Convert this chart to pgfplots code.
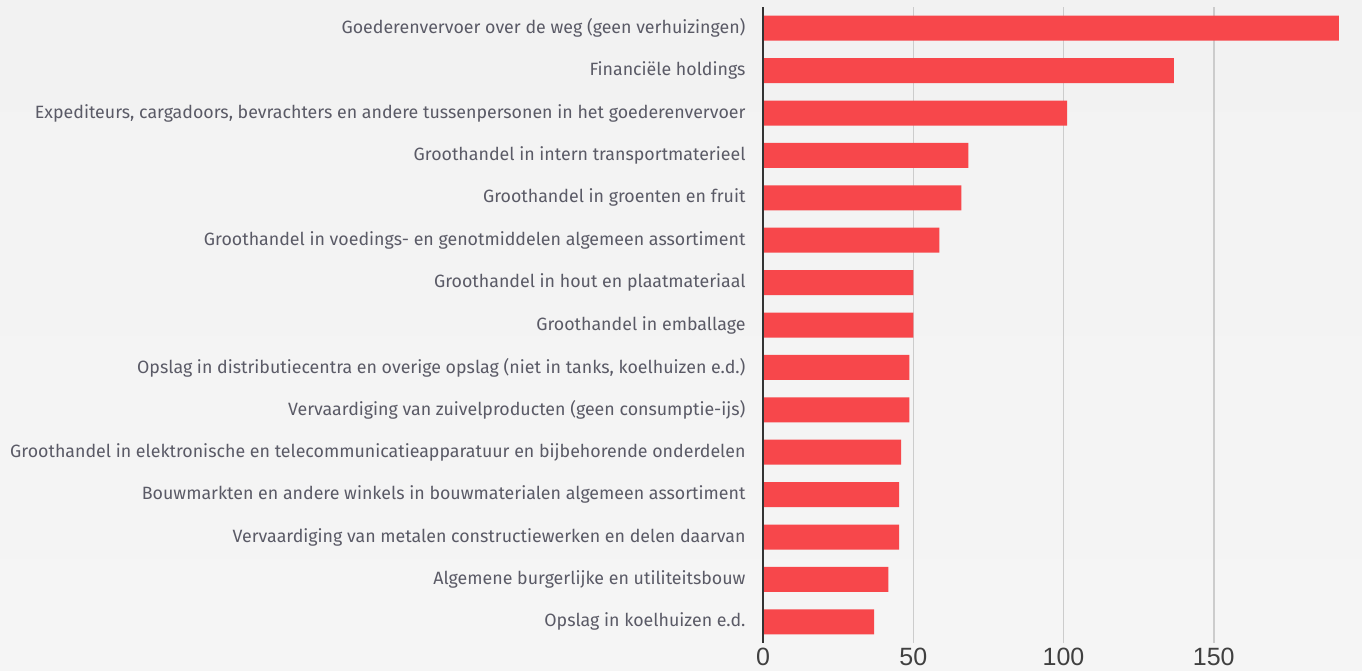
\documentclass[border=0pt]{standalone}
\usepackage{pgfplots}
\pgfplotsset{compat=1.18}
\usepackage{fontspec}
\setmainfont{Fira Sans}
\newfontfamily\tickfont{Liberation Sans}
\definecolor{barred}{HTML}{F7474B}
\definecolor{labgray}{HTML}{5A5A66}
\definecolor{gridgray}{HTML}{CCCCCC}
\definecolor{bgtop}{HTML}{F2F2F2}
\definecolor{bgbot}{HTML}{F5F5F5}
\begin{document}
\begin{tikzpicture}[x=1pt,y=1pt]
\shade[top color=bgtop,bottom color=bgbot] (0,0) rectangle (1362,670);
\begin{axis}[
  at={(763pt,27pt)}, anchor=south west,
  scale only axis, width=577pt, height=636pt,
  xbar, bar width=25pt,
  xmin=0, xmax=192,
  ymin=-0.5, ymax=14.5, y dir=reverse,
  ytick={0,...,14},
  yticklabels={
    Goederenvervoer over de weg (geen verhuizingen),
    Financiële holdings,
    {Expediteurs, cargadoors, bevrachters en andere tussenpersonen in het goederenvervoer},
    Groothandel in intern transportmaterieel,
    Groothandel in groenten en fruit,
    Groothandel in voedings- en genotmiddelen algemeen assortiment,
    Groothandel in hout en plaatmateriaal,
    Groothandel in emballage,
    {Opslag in distributiecentra en overige opslag (niet in tanks, koelhuizen e.d.)},
    Vervaardiging van zuivelproducten (geen consumptie-ijs),
    Groothandel in elektronische en telecommunicatieapparatuur en bijbehorende onderdelen,
    Bouwmarkten en andere winkels in bouwmaterialen algemeen assortiment,
    Vervaardiging van metalen constructiewerken en delen daarvan,
    Algemene burgerlijke en utiliteitsbouw,
    Opslag in koelhuizen e.d.},
  xtick={0,50,100,150},
  xmajorgrids, grid style={gridgray, line width=1.5pt},
  major tick length=0pt,
  axis line style={draw=none},
  axis x line*=bottom, axis y line*=left,
  y tick label style={font=\fontsize{17.8}{20}\selectfont, text=labgray, xshift=-14pt},
  x tick label style={font=\tickfont\fontsize{25}{26}\selectfont, text=black!75, yshift=-1pt},
  /pgf/number format/assume math mode=true,
  clip=false,
]
\addplot[fill=barred, draw=none] coordinates {
(191.6,0) (136.7,1) (101.2,2) (68.3,3) (66.0,4) (58.7,5) (50.0,6) (50.0,7)
(48.7,8) (48.7,9) (46.0,10) (45.3,11) (45.3,12) (41.7,13) (37.0,14)};
\draw[black!80, line width=2pt] (axis cs:0,-0.5) -- (axis cs:0,14.5);
\end{axis}
\end{tikzpicture}
\end{document}
